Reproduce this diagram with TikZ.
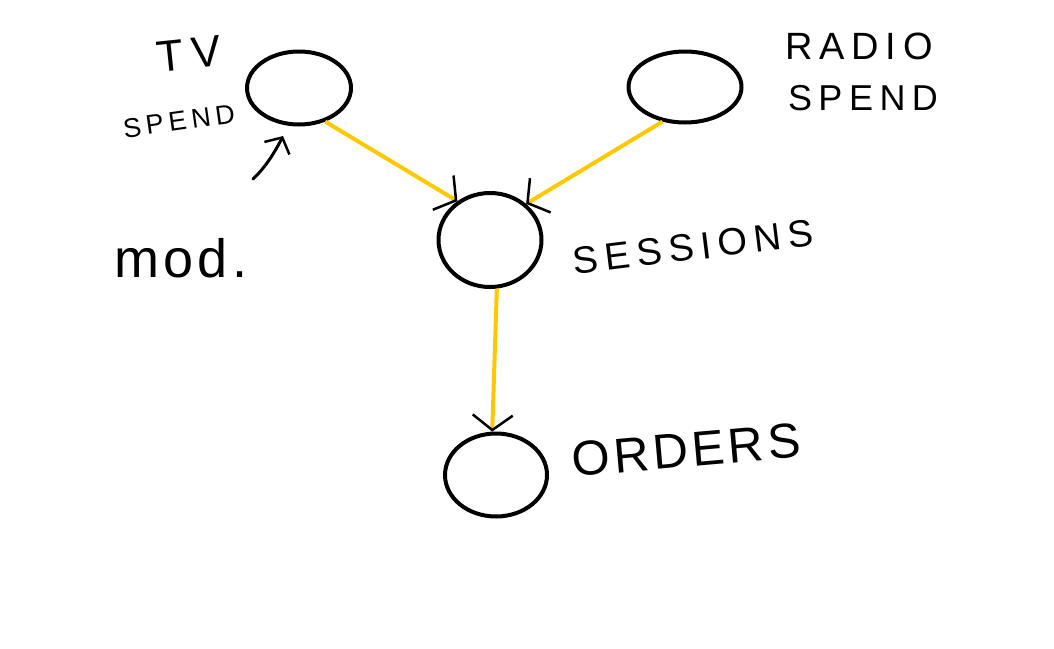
\documentclass[tikz,border=0pt]{standalone}
\usepackage{fontspec}
\setmainfont{Liberation Sans}
\newfontfamily\hand[LetterSpace=18]{Liberation Sans}
\newfontfamily\handt[LetterSpace=8]{Liberation Sans}
\usetikzlibrary{shapes.geometric,arrows.meta}
\definecolor{edgeyellow}{RGB}{255,200,0}
\tikzset{
  var/.style={ellipse, draw=black, line width=4pt, inner sep=0pt},
  link/.style={draw=edgeyellow, line width=4pt,
    -{Straight Barb[black, length=15pt, width=40pt, line width=2.5pt]}},
  pointer/.style={draw=black, line width=3pt, line cap=round,
    -{Straight Barb[black, length=12pt, width=28pt, line width=2.5pt]}},
  lbl/.style={font=\hand, text=black, inner sep=0pt},
}
\begin{document}
\begin{tikzpicture}[x=1pt,y=-1pt]
\useasboundingbox (0,0) rectangle (1054,648);
\fill[white] (0,0) rectangle (1054,648);
% variables
\node[var, minimum width=104pt, minimum height=73pt] (tv) at (299,88) {};
\node[var, minimum width=113pt, minimum height=71pt] (radio) at (685,87) {};
\node[var, minimum width=103pt, minimum height=94pt] (ses) at (490,240) {};
\node[var, minimum width=102pt, minimum height=83pt] (ord) at (496,475) {};
% labels
\node[lbl, font=\hand\fontsize{44}{44}\selectfont, rotate=6] (tvl) at (189,54) {TV};
\node[lbl, font=\hand\fontsize{27}{27}\selectfont, rotate=8] (tvs) at (179,121) {SPEND};
\node[lbl, font=\hand\fontsize{38}{38}\selectfont] (rl) at (859,46) {RADIO};
\node[lbl, font=\hand\fontsize{36}{36}\selectfont] (rs) at (863,98) {SPEND};
\node[lbl, font=\hand\fontsize{38}{38}\selectfont, rotate=7] (sl) at (693,247) {SESSIONS};
\node[lbl, font=\handt\fontsize{49}{49}\selectfont, rotate=5] (ol) at (686,450) {ORDERS};
\node[lbl, font=\handt\fontsize{54}{54}\selectfont, anchor=base west] (mod) at (114,277) {mod.};
% connectors
\draw[link] (tv.-52) -- (ses.130);
\draw[link] (radio.-123) -- (ses.45);
\draw[link] (ses.-82) -- (ord.95);
\coordinate (mtail) at (253,179);
\coordinate (mtip) at (283,136);
\draw[pointer] (mtail) .. controls (266,167) and (276,150) .. (mtip);
\end{tikzpicture}
\end{document}
